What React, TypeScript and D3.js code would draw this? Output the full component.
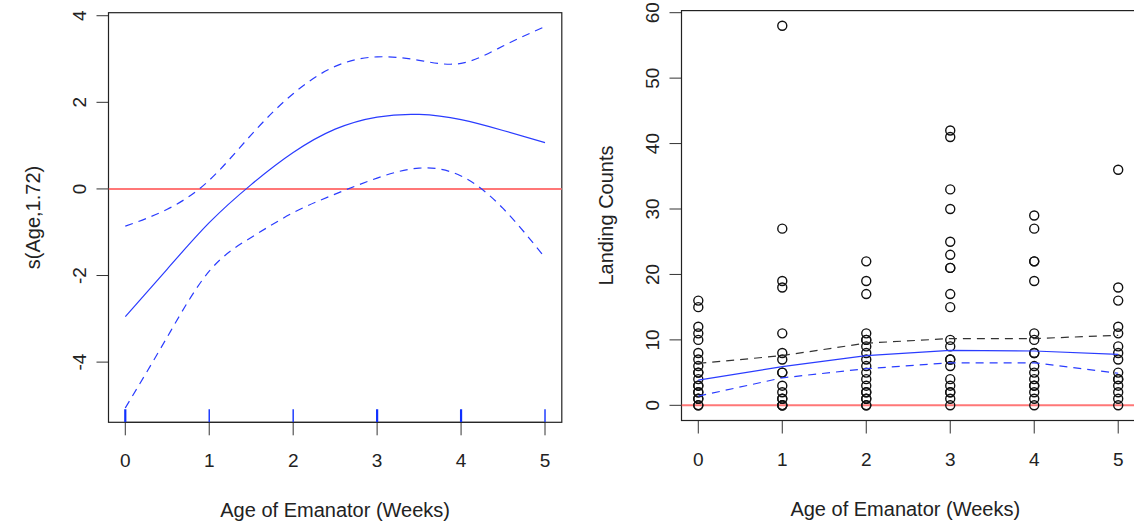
import { useEffect, useRef } from "react";
import * as d3 from "d3";

// left panel: smooth term s(Age,1.72) read at half-week steps
const gridAge = [0, 0.5, 1, 1.5, 2, 2.5, 3, 3.5, 4, 4.5, 5];
const fitS = [-2.95, -1.85, -0.78, 0.1, 0.84, 1.38, 1.66, 1.72, 1.6, 1.35, 1.07];
const upperS = [-0.86, -0.47, 0.2, 1.25, 2.2, 2.83, 3.05, 2.97, 2.9, 3.3, 3.75];
const lowerS = [-5.06, -3.42, -1.9, -1.12, -0.55, -0.12, 0.25, 0.48, 0.3, -0.45, -1.59];
const rugAges = [0, 1, 2, 3, 4, 5];

// right panel: landing counts by age
const ages = [0, 1, 2, 3, 4, 5];
const counts0 = [0, 0, 1, 1, 2, 2, 3, 3, 4, 5, 5, 6, 7, 8, 10, 11, 12, 15, 16];
const counts1 = [0, 0, 0, 1, 1, 2, 3, 5, 5, 7, 8, 11, 18, 19, 27, 58];
const counts2 = [0, 0, 1, 1, 2, 2, 3, 4, 5, 6, 7, 8, 9, 10, 10, 11, 17, 19, 22];
const counts3 = [0, 1, 2, 2, 3, 4, 6, 7, 7, 9, 10, 15, 17, 21, 21, 23, 25, 30, 33, 41, 42];
const counts4 = [0, 1, 2, 3, 3, 4, 5, 6, 8, 8, 10, 11, 19, 22, 22, 27, 29];
const counts5 = [0, 1, 2, 3, 4, 4, 5, 7, 8, 9, 11, 12, 16, 18, 36];
const meanFit = [3.85, 5.9, 7.6, 8.4, 8.3, 7.8];
const lowerFit = [1.4, 4.2, 5.6, 6.5, 6.5, 4.9];
const upperFit = [6.4, 7.6, 9.5, 10.2, 10.2, 10.7];

const xTicks = [0, 1, 2, 3, 4, 5];
const leftYTicks = [-4, -2, 0, 2, 4];
const rightYTicks = [0, 10, 20, 30, 40, 50, 60];

const FONT = "'Liberation Sans', Arial, Helvetica, sans-serif";

export default function App() {
  const ref = useRef<SVGSVGElement>(null);

  useEffect(() => {
    const svg = d3.select(ref.current);
    svg.selectAll("*").remove();

    const drawFrame = (g, x, y, yTicks, yLabel, clipId) => {
      const [x0, x1] = x.range();
      const [y0, y1] = y.range(); // y0 bottom, y1 top
      g.append("clipPath").attr("id", clipId)
        .append("rect").attr("x", x0).attr("y", y1).attr("width", x1 - x0).attr("height", y0 - y1);

      // x axis
      g.append("line").attr("x1", x(xTicks[0])).attr("x2", x(xTicks[xTicks.length - 1]))
        .attr("y1", y0).attr("y2", y0).attr("stroke", "#333");
      xTicks.forEach(t => {
        g.append("line").attr("x1", x(t)).attr("x2", x(t)).attr("y1", y0).attr("y2", y0 + 13)
          .attr("stroke", "#333");
        g.append("text").attr("x", x(t)).attr("y", y0 + 45).attr("text-anchor", "middle")
          .attr("font-size", 19).attr("font-family", FONT).attr("fill", "#222").text(t);
      });
      g.append("text").attr("x", (x0 + x1) / 2 - (clipId === "cr" ? 3 : 0)).attr("y", y0 + 95)
        .attr("text-anchor", "middle").attr("font-size", 20).attr("font-family", FONT)
        .attr("fill", "#222").text("Age of Emanator (Weeks)");

      // y axis
      g.append("line").attr("x1", x0).attr("x2", x0)
        .attr("y1", y(yTicks[0])).attr("y2", y(yTicks[yTicks.length - 1])).attr("stroke", "#333");
      yTicks.forEach(t => {
        g.append("line").attr("x1", x0 - 12).attr("x2", x0).attr("y1", y(t)).attr("y2", y(t))
          .attr("stroke", "#333");
        g.append("text").attr("transform", `translate(${x0 - 29},${y(t)}) rotate(-90)`)
          .attr("text-anchor", "middle").attr("dy", "0.35em")
          .attr("font-size", 19).attr("font-family", FONT).attr("fill", "#222")
          .text(t < 0 ? "-" + Math.abs(t) : String(t));
      });
      g.append("text").attr("transform", `translate(${x0 - 76},${(y0 + y1) / 2}) rotate(-90)`)
        .attr("text-anchor", "middle").attr("dy", "0.35em")
        .attr("font-size", 20).attr("font-family", FONT).attr("fill", "#222").text(yLabel);

      // box
      g.append("rect").attr("x", x0).attr("y", y1).attr("width", x1 - x0).attr("height", y0 - y1)
        .attr("fill", "none").attr("stroke", "#222").attr("stroke-width", 1.2);
    };

    // ---------- left panel ----------
    const xl = d3.scaleLinear().domain([-0.2, 5.2]).range([108.5, 561.8]);
    const yl = d3.scaleLinear().domain([-5.39, 4.07]).range([422.3, 12.7]);
    const gl = svg.append("g");
    drawFrame(gl, xl, yl, leftYTicks, "s(Age,1.72)", "cl");
    const pl = gl.append("g").attr("clip-path", "url(#cl)");

    pl.append("line").attr("x1", xl.range()[0]).attr("x2", xl.range()[1])
      .attr("y1", yl(0)).attr("y2", yl(0)).attr("stroke", "#f77").attr("stroke-width", 2);

    const smooth = d3.line<number>().x((d, i) => xl(gridAge[i])).y(d => yl(d)).curve(d3.curveNatural);
    pl.append("path").datum(fitS).attr("d", smooth).attr("fill", "none")
      .attr("stroke", "#2a3cff").attr("stroke-width", 1.2);
    [upperS, lowerS].forEach(s => {
      pl.append("path").datum(s).attr("d", smooth).attr("fill", "none")
        .attr("stroke", "#2a3cff").attr("stroke-width", 1.2).attr("stroke-dasharray", "8,6");
    });
    rugAges.forEach(a => {
      pl.append("line").attr("x1", xl(a)).attr("x2", xl(a))
        .attr("y1", yl.range()[0]).attr("y2", yl.range()[0] - 13)
        .attr("stroke", "#1030ff").attr("stroke-width", a === 0 || a === 3 || a === 4 ? 2.2 : 1.4);
    });

    // ---------- right panel ----------
    const xr = d3.scaleLinear().domain([-0.2, 5.2]).range([681.5, 1135]);
    const yr = d3.scaleLinear().domain([-2.32, 60.32]).range([420.5, 10.6]);
    const gr = svg.append("g");
    drawFrame(gr, xr, yr, rightYTicks, "Landing Counts", "cr");
    const pr = gr.append("g").attr("clip-path", "url(#cr)");

    pr.append("line").attr("x1", xr.range()[0]).attr("x2", xr.range()[1])
      .attr("y1", yr(0)).attr("y2", yr(0)).attr("stroke", "#f77").attr("stroke-width", 2);

    const groups = [counts0, counts1, counts2, counts3, counts4, counts5];
    groups.forEach((vals, i) => {
      pr.selectAll(null).data(vals).enter().append("circle")
        .attr("cx", xr(ages[i])).attr("cy", d => yr(d)).attr("r", 4.5)
        .attr("fill", "none").attr("stroke", "#111").attr("stroke-width", 1.4);
    });

    const poly = d3.line<number>().x((d, i) => xr(ages[i])).y(d => yr(d));
    pr.append("path").datum(meanFit).attr("d", poly).attr("fill", "none")
      .attr("stroke", "#2a3cff").attr("stroke-width", 1.2);
    pr.append("path").datum(lowerFit).attr("d", poly).attr("fill", "none")
      .attr("stroke", "#2a3cff").attr("stroke-width", 1.2).attr("stroke-dasharray", "8,6");
    pr.append("path").datum(upperFit).attr("d", poly).attr("fill", "none")
      .attr("stroke", "#333").attr("stroke-width", 1.2).attr("stroke-dasharray", "8,6");
  }, []);

  return (
    <svg ref={ref} width={1134} height={529}
      style={{ position: "absolute", left: 0, top: 0, background: "#fff" }} />
  );
}
